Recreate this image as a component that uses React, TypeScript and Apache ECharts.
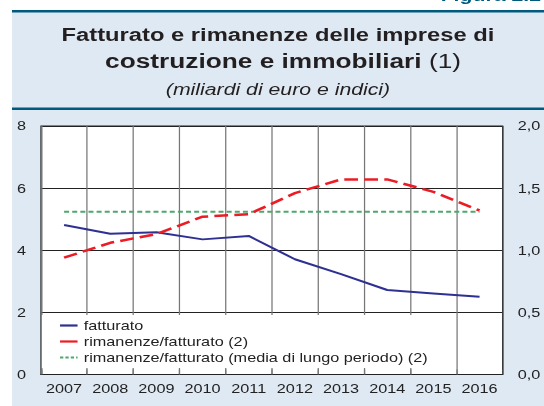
import React, { useEffect, useRef } from "react";
import * as echarts from "echarts";

// ---- data ----
const years = ["2007", "2008", "2009", "2010", "2011", "2012", "2013", "2014", "2015", "2016"];
const fatturato = [4.81, 4.53, 4.58, 4.35, 4.46, 3.71, 3.23, 2.72, 2.61, 2.5];
const rimanenzeFatturato = [0.94, 1.06, 1.13, 1.27, 1.29, 1.46, 1.57, 1.57, 1.47, 1.32];
const mediaLungoPeriodo = [1.31, 1.31, 1.31, 1.31, 1.31, 1.31, 1.31, 1.31, 1.31, 1.31];
const seriesNames = [
  "fatturato",
  "rimanenze/fatturato (2)",
  "rimanenze/fatturato (media di lungo periodo) (2)",
];
const leftAxis = { min: 0, max: 8, interval: 2 };
const rightAxis = { min: 0, max: 2, interval: 0.5 };
const titleLine1 = "Fatturato e rimanenze delle imprese di";
const titleLine2Bold = "costruzione e immobiliari";
const titleLine2Note = "(1)";
const subtitle = "(miliardi di euro e indici)";
const figureLabel = "Figura 2.2";

// the reference is horizontally stretched; draw at a narrower width and stretch
const W = 435;
const H = 406;
const S = 544 / W;

const FONT = '"Liberation Sans", Arial, sans-serif';
const TEAL = "#005a7e";
const PANEL = "#dee9f3";
const BLUE = "#2e3192";
const RED = "#ed1c24";
const GREEN = "#4ea86e";

const DASH_ICON = "path://M0 0H3.2V1H0Z M5.2 0H8.4V1H5.2Z M10.4 0H13.6V1H10.4Z M15.6 0H17V1H15.6Z";

export default function App() {
  const ref = useRef<HTMLDivElement>(null);

  useEffect(() => {
    if (!ref.current) return;
    const chart = echarts.init(ref.current, null, { renderer: "svg" });
    const cx = 278 / S;
    const option: any = {
      animation: false,
      textStyle: { fontFamily: FONT },
      graphic: [
        { type: "rect", z: -10, shape: { x: 12 / S, y: 12, width: W, height: H }, style: { fill: PANEL } },
        { type: "rect", z: -9, shape: { x: 12 / S, y: 10, width: W, height: 2.5 }, style: { fill: TEAL } },
        { type: "rect", z: -9, shape: { x: 12 / S, y: 107.5, width: W, height: 2.5 }, style: { fill: TEAL } },
        {
          type: "text", z: 5, x: 541 / S, y: -5,
          style: { text: figureLabel, align: "right", verticalAlign: "middle", fill: TEAL, font: `bold 17px ${FONT}` },
        },
        {
          type: "text", z: 5, x: cx, y: 34.5,
          style: { text: titleLine1, align: "center", verticalAlign: "middle", fill: "#231f20", font: `bold 19px ${FONT}` },
        },
        {
          type: "text", z: 5, x: 283 / S, y: 60.5,
          style: {
            text: `{b|${titleLine2Bold}} {n|${titleLine2Note}}`,
            align: "center", verticalAlign: "middle", fill: "#231f20",
            font: `21px ${FONT}`,
            rich: {
              b: { fontWeight: "bold", fontSize: 21, fontFamily: FONT, fill: "#231f20" },
              n: { fontSize: 21, fontFamily: FONT, fill: "#231f20" },
            },
          },
        },
        {
          type: "text", z: 5, x: cx, y: 89,
          style: { text: subtitle, align: "center", verticalAlign: "middle", fill: "#231f20", font: `italic 17px ${FONT}` },
        },
      ],
      grid: {
        left: 41 / S,
        right: W - 504 / S,
        top: 126,
        bottom: 31.5,
        show: true,
        backgroundColor: "#ffffff",
        borderColor: "#222",
        borderWidth: 1,
      },
      legend: {
        orient: "vertical",
        left: 33.5,
        top: 315,
        padding: [4, 17, 4, 14.5],
        backgroundColor: "#ffffff",
        itemWidth: 14,
        itemHeight: 2.2,
        itemGap: 3,
        symbolKeepAspect: false,
        textStyle: { fontSize: 13, color: "#222", fontFamily: FONT },
        data: [
          { name: seriesNames[0], icon: "rect", itemStyle: { color: BLUE } },
          { name: seriesNames[1], icon: "rect", itemStyle: { color: RED } },
          { name: seriesNames[2], icon: DASH_ICON, itemStyle: { color: GREEN } },
        ],
      },
      xAxis: {
        type: "category",
        data: years,
        boundaryGap: true,
        axisLine: { show: true, lineStyle: { color: "#222" } },
        axisTick: { show: true, inside: true, length: 5, interval: 0, lineStyle: { color: "#777" } },
        splitLine: { show: true, interval: 0, lineStyle: { color: "#777", width: 1 } },
        axisLabel: { fontSize: 13, color: "#222", margin: 8, interval: 0, fontFamily: FONT },
      },
      yAxis: [
        {
          type: "value",
          min: leftAxis.min,
          max: leftAxis.max,
          interval: leftAxis.interval,
          axisLine: { show: false },
          axisTick: { show: false },
          splitLine: { show: true, lineStyle: { color: "#222", width: 1 } },
          axisLabel: { fontSize: 13, color: "#222", margin: 12, fontFamily: FONT },
        },
        {
          type: "value",
          min: rightAxis.min,
          max: rightAxis.max,
          interval: rightAxis.interval,
          axisLine: { show: false },
          axisTick: { show: false },
          splitLine: { show: false },
          axisLabel: {
            fontSize: 13,
            color: "#222",
            margin: 12,
            fontFamily: FONT,
            formatter: (v: number) => v.toFixed(1).replace(".", ","),
          },
        },
      ],
      series: [
        {
          name: seriesNames[0],
          type: "line",
          data: fatturato,
          yAxisIndex: 0,
          symbol: "none",
          lineStyle: { color: BLUE, width: 2 },
          itemStyle: { color: BLUE },
          z: 3,
        },
        {
          name: seriesNames[1],
          type: "line",
          data: rimanenzeFatturato,
          yAxisIndex: 1,
          symbol: "none",
          lineStyle: { color: RED, width: 2.5, type: [11, 5] },
          itemStyle: { color: RED },
          z: 3,
        },
        {
          name: seriesNames[2],
          type: "line",
          data: mediaLungoPeriodo,
          yAxisIndex: 1,
          symbol: "none",
          lineStyle: { color: GREEN, width: 2, type: [4, 2.5] },
          itemStyle: { color: GREEN },
          z: 2,
        },
      ],
    };
    chart.setOption(option);
    return () => chart.dispose();
  }, []);

  return (
    <div
      ref={ref}
      style={{
        position: "fixed",
        left: 0,
        top: 0,
        width: W,
        height: H,
        transform: `scaleX(${S})`,
        transformOrigin: "0 0",
      }}
    />
  );
}
